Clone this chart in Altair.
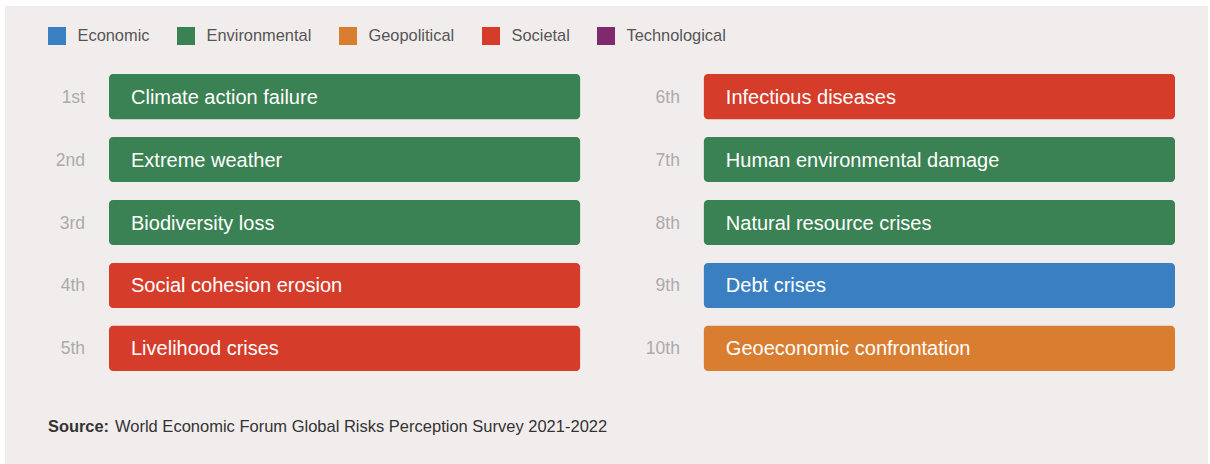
import altair as alt
import pandas as pd

# ---- data ----
ranks = ["1st", "2nd", "3rd", "4th", "5th", "6th", "7th", "8th", "9th", "10th"]
risks = [
    "Climate action failure",
    "Extreme weather",
    "Biodiversity loss",
    "Social cohesion erosion",
    "Livelihood crises",
    "Infectious diseases",
    "Human environmental damage",
    "Natural resource crises",
    "Debt crises",
    "Geoeconomic confrontation",
]
risk_categories = [
    "Environmental", "Environmental", "Environmental", "Societal", "Societal",
    "Societal", "Environmental", "Environmental", "Economic", "Geopolitical",
]
legend_categories = ["Economic", "Environmental", "Geopolitical", "Societal", "Technological"]
legend_colors = ["#3a7fc1", "#3a8153", "#d97d31", "#d63c2a", "#7e2a6d"]
source_bold = "Source:"
source_text = "World Economic Forum Global Risks Perception Survey 2021-2022"

df = pd.DataFrame({
    "rank": ranks,
    "risk": risks,
    "category": risk_categories,
    "col": [i // 5 for i in range(len(ranks))],
    "row": [i % 5 for i in range(len(ranks))],
})

FONT = "Liberation Sans"

xenc = alt.X("col:O", scale=alt.Scale(paddingInner=0.208, paddingOuter=0), axis=None)
yenc = alt.Y("row:O", scale=alt.Scale(paddingInner=0.283, paddingOuter=0), axis=None)
xstart = alt.X("col:O", bandPosition=0, axis=None)

panel = alt.Chart(alt.Data(values=[{}])).mark_rect(color="#f2eded").encode(
    x=alt.value(-104), x2=alt.value(1099), y=alt.value(-68), y2=alt.value(390)
)

bars = alt.Chart(df).mark_bar(cornerRadius=4).encode(
    x=xenc,
    y=yenc,
    color=alt.Color(
        "category:N",
        scale=alt.Scale(domain=legend_categories, range=legend_colors),
        legend=alt.Legend(
            orient="none", legendX=-61, legendY=-47, direction="horizontal",
            title=None, symbolType="square", symbolSize=324, symbolStrokeWidth=0,
            symbolOpacity=1, labelFontSize=16.4, labelColor="#555555", labelFont=FONT,
            columnPadding=27, labelOffset=11.5,
        ),
    ),
)

labels = alt.Chart(df).mark_text(
    align="left", baseline="middle", dx=22, dy=1, fontSize=20, font=FONT, color="white"
).encode(x=xstart, y=yenc, text="risk:N")

rank_labels = alt.Chart(df).mark_text(
    align="right", baseline="middle", dx=-24, dy=1, fontSize=17.5, font=FONT, color="#ababab"
).encode(x=xstart, y=yenc, text="rank:N")

src1 = alt.Chart(alt.Data(values=[{"t": source_bold}])).mark_text(
    align="left", baseline="middle", fontSize=16.4, fontWeight="bold", font=FONT, color="#333333"
).encode(x=alt.value(-61), y=alt.value(353), text="t:N")

src2 = alt.Chart(alt.Data(values=[{"t": source_text}])).mark_text(
    align="left", baseline="middle", fontSize=16.5, font=FONT, color="#333333"
).encode(x=alt.value(6), y=alt.value(353), text="t:N")

chart = alt.layer(panel, bars, labels, rank_labels, src1, src2).properties(
    width=1066, height=297,
    padding={"left": 109, "top": 74, "right": 35, "bottom": 93},
    autosize=alt.AutoSizeParams(type="none"),
    background="white",
).configure_view(strokeWidth=0)

chart.save("out.html", embed_options={"renderer": "svg", "actions": False})
